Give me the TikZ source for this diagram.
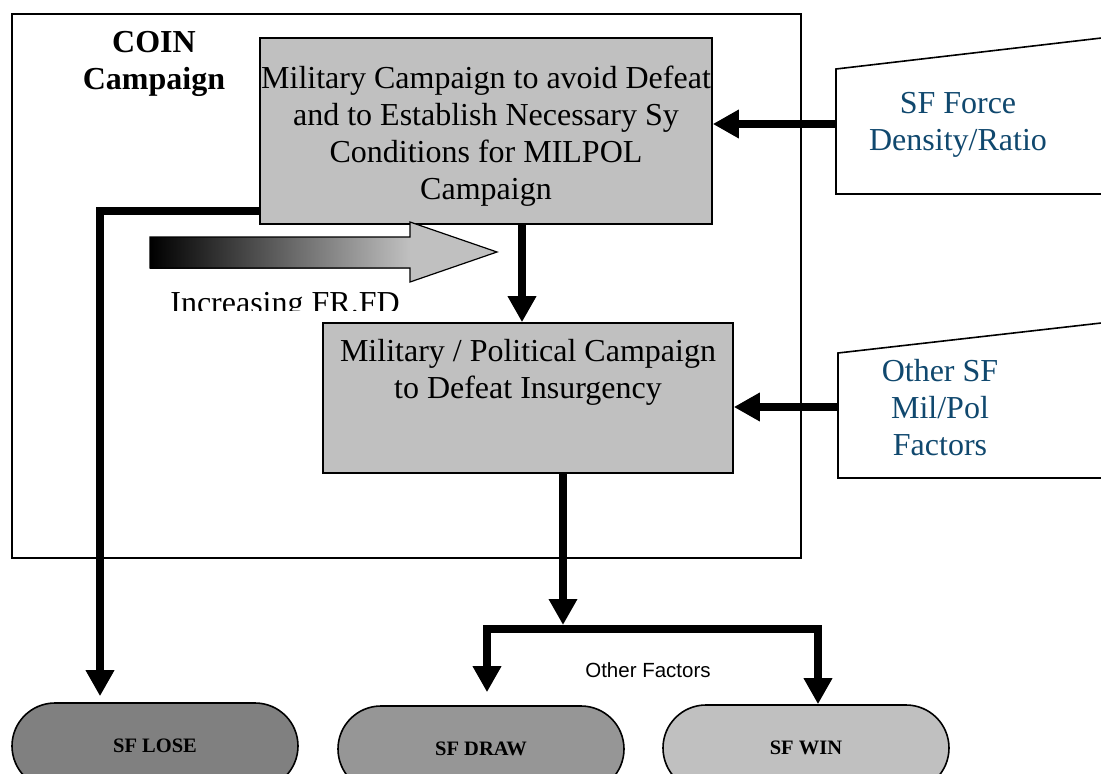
\documentclass[tikz,border=0pt]{standalone}
\usepackage{fontspec}
\setmainfont{Liberation Serif}
\newfontfamily\arialf{Liberation Sans}
\usetikzlibrary{arrows.meta,shapes.misc}
\definecolor{boxgray}{RGB}{192,192,192}
\definecolor{losegray}{RGB}{128,128,128}
\definecolor{drawgray}{RGB}{150,150,150}
\definecolor{wingray}{RGB}{192,192,192}
\definecolor{sfblue}{RGB}{16,72,110}
\begin{document}
\begin{tikzpicture}[x=1pt,y=-1pt,
  bigfont/.style={font=\fontsize{32}{37}\selectfont},
  flowbox/.style={draw=black, line width=1.6pt, fill=boxgray, inner sep=0pt, bigfont},
  outcome/.style={rounded rectangle, rounded rectangle arc length=180, draw=black, line width=1.6pt,
    minimum width=286pt, minimum height=86pt, inner sep=0pt, font=\fontsize{20.5}{24}\selectfont\bfseries},
  arr/.style={line width=8.5pt, -{Triangle[length=26pt,width=27pt]}},
  inputshape/.style={draw=black, line width=1.6pt, fill=white},
  bluetext/.style={bigfont, text=sfblue, align=center, inner sep=0pt},
]
\useasboundingbox (0,0) rectangle (1101,774);
\begin{scope}
\clip (0,0) rectangle (1101,774);

% container
\node[draw=black, line width=1.5pt, minimum width=789pt, minimum height=544pt, inner sep=0pt] (coin) at (406.5,286) {};
\node[font=\fontsize{32}{37}\selectfont\bfseries, align=center, inner sep=0pt] (coinlabel) at (154,63.5) {COIN\\Campaign};

% main boxes
\node[flowbox] (top) at (486,131)
  {\parbox[c][186pt][t]{452pt}{\centering\vspace*{25pt}\strut Military Campaign to avoid Defeat\\and to Establish Necessary Sy\\Conditions for MILPOL\\Campaign}};
\node[flowbox] (box2) at (528,398)
  {\parbox[c][150pt][t]{410pt}{\centering\vspace*{13pt}\strut Military / Political Campaign\\to Defeat Insurgency}};

% gradient arrow
\shade[left color=black, right color=boxgray] (150,237) rectangle (410,268);
\fill[boxgray] (410,222) -- (497,252) -- (410,282) -- cycle;
\draw[line width=1.2pt, line join=miter] (150,237) -- (410,237) -- (410,222) -- (497,252) -- (410,282) -- (410,268) -- (150,268) -- cycle;
\begin{scope}
\clip (140,270) rectangle (430,310);
\node[bigfont, anchor=base, inner sep=0pt] (frfd) at (285,313) {Increasing FR.FD};
\end{scope}

% input shapes
\draw[inputshape] (836,69) -- (1110,37) -- (1110,194) -- (836,194) -- cycle;
\node[bluetext] (sftext) at (958,124.5) {SF Force\\Density/Ratio};
\coordinate (sfport) at (836,124);
\draw[inputshape] (838,353) -- (1110,322) -- (1110,478) -- (838,478) -- cycle;
\node[bluetext] (othertext) at (940,408) {Other SF\\Mil/Pol\\Factors};
\coordinate (otherport) at (838,407);

% outcomes
\node[outcome, fill=losegray] (lose) at (155,746) {SF LOSE};
\node[outcome, fill=drawgray] (drawo) at (481,749) {SF DRAW};
\node[outcome, fill=wingray] (wino) at (806,748) {SF WIN};
\node[font=\arialf\fontsize{20.5}{24}\selectfont, anchor=base, inner sep=0pt] (otherf) at (648,677) {Other Factors};

% connectors
\draw[arr] (sfport) -- (sfport -| top.east);
\draw[arr] (otherport) -- (otherport -| box2.east);
\draw[arr] ([xshift=36pt]top.south) -- ([xshift=36pt]top.south |- box2.north);
\draw[arr] ([yshift=14pt]top.south west) -| ([xshift=-55pt,yshift=6pt]lose.north);
\coordinate (split) at (563,629);
\draw[arr] ([xshift=35pt]box2.south) -- ([yshift=4pt]split);
\draw[arr] (split) -| ([xshift=6pt,yshift=13pt]drawo.north);
\draw[arr] (split) -| ([xshift=12pt]wino.north);
\end{scope}
\end{tikzpicture}
\end{document}
